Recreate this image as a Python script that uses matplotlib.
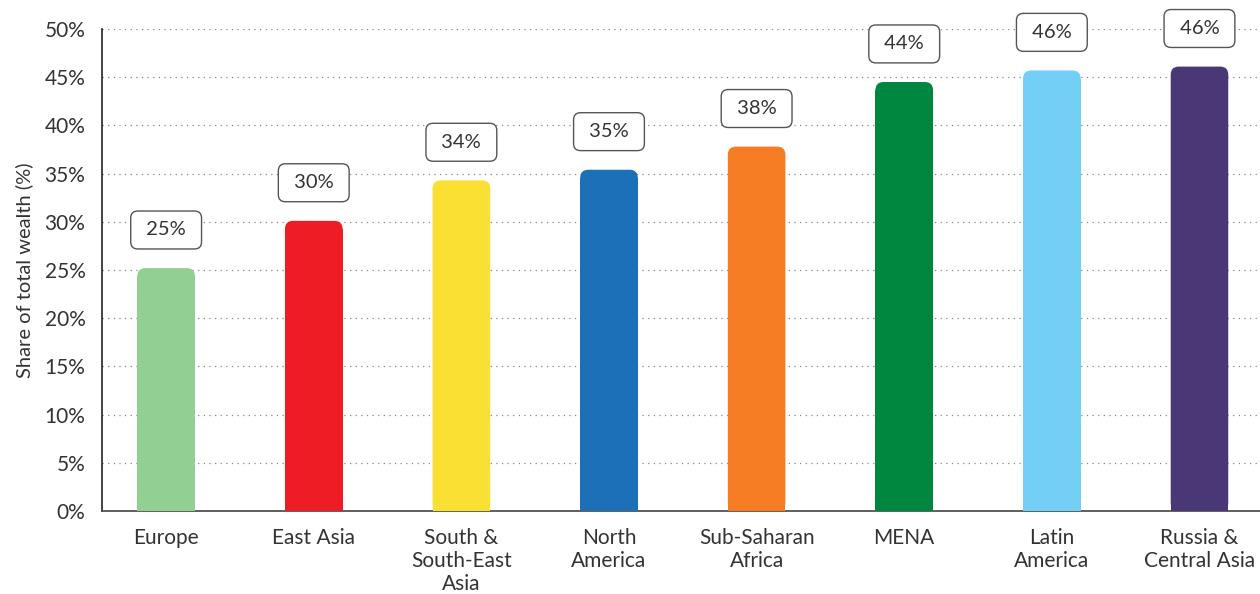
import matplotlib
matplotlib.use("Agg")
from matplotlib import pyplot as plt
from matplotlib.patches import FancyBboxPatch

regions = ["Europe", "East Asia", "South &\nSouth-East\nAsia", "North\nAmerica",
           "Sub-Saharan\nAfrica", "MENA", "Latin\nAmerica", "Russia &\nCentral Asia"]
shares = [25.2, 30.1, 34.3, 35.4, 37.8, 44.5, 45.7, 46.1]
labels = ["25%", "30%", "34%", "35%", "38%", "44%", "46%", "46%"]
colors = ["#92cf92", "#ee1c25", "#fbe034", "#1b70b8",
          "#f57c23", "#00873f", "#73cff5", "#4a3775"]
yticks = [0, 5, 10, 15, 20, 25, 30, 35, 40, 45, 50]

plt.rcParams['font.family'] = ['Lato', 'DejaVu Sans']
text_col = "#333333"

fig = plt.figure(figsize=(12.6, 5.94), dpi=100)
ax = fig.add_axes([0.081, 0.1397, 0.919, 0.8115])

x = list(range(len(regions)))
w = 0.39
ax.set_xlim(-0.434, 7.41)
ax.set_ylim(0, 50)

# rounded tops: square bar body + rounded cap
r = 0.055
asp = (50 / (0.8115 * 594)) / (7.844 / (0.919 * 1260))
for i, h in enumerate(shares):
    ax.bar(i, h - r * asp, width=w, color=colors[i], zorder=3)
    cap = FancyBboxPatch((i - w / 2, 0), w, h,
                         boxstyle=f"round,pad=0,rounding_size={r}",
                         mutation_aspect=asp, facecolor=colors[i],
                         edgecolor="none", zorder=3)
    ax.add_patch(cap)
    ax.text(i, h + 3.95, " " + labels[i] + " ", ha="center", va="center",
            fontsize=14.5, color=text_col, zorder=4, clip_on=False,
            bbox=dict(boxstyle="round,pad=0.52,rounding_size=0.35",
                      facecolor="white", edgecolor="#555555", linewidth=1.0))

ax.set_yticks(yticks)
ax.set_yticklabels([f"{v}%" for v in yticks], fontsize=15, color=text_col)
ax.set_xticks(x)
ax.set_xticklabels(regions, fontsize=15, color=text_col, linespacing=1.2)
ax.tick_params(axis="both", length=0)
ax.tick_params(axis="y", pad=12)
ax.tick_params(axis="x", pad=12)
ax.set_ylabel("Share of total wealth (%)", fontsize=14.5, color=text_col, labelpad=8)

for v in yticks[1:]:
    ax.axhline(v, color="#888888", linestyle=(0, (1, 3.5)), linewidth=0.9, zorder=1)

for s in ["top", "right"]:
    ax.spines[s].set_visible(False)
ax.spines["left"].set_color("#222222")
ax.spines["bottom"].set_color("#444444")
ax.spines["left"].set_linewidth(1.2)
ax.spines["bottom"].set_linewidth(1.2)

fig.savefig("out.png", dpi=100)
